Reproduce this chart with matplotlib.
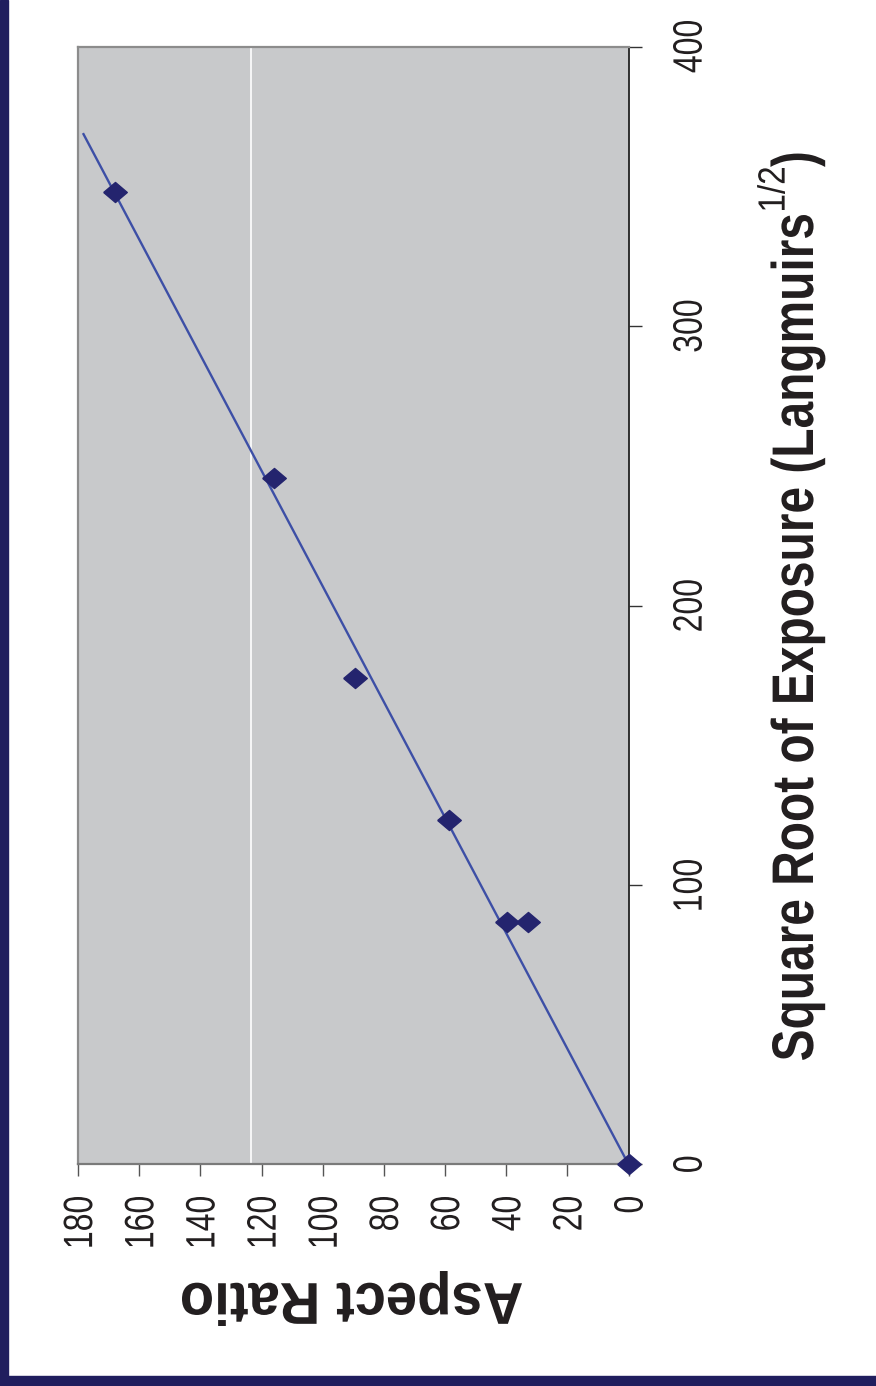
import numpy as np
import matplotlib
matplotlib.use('Agg')
import matplotlib.pyplot as plt
from matplotlib.patches import Rectangle, PathPatch
from matplotlib.textpath import TextPath
from matplotlib.font_manager import FontProperties
from matplotlib.transforms import Affine2D

exposure = [0, 86.8, 86.8, 123.1, 173.9, 245.5, 348.1]     # sqrt(Langmuirs)
aspect = [0, 39.8, 32.9, 58.6, 89.5, 115.8, 167.8]
trend_exposure = [0, 368.7]
trend_aspect = [0, 178.2]
grid_at = 123.3
aspect_ticks = [0, 20, 40, 60, 80, 100, 120, 140, 160, 180]
exposure_ticks = [0, 100, 200, 300, 400]

plt.rcParams['font.family'] = ['Liberation Sans', 'DejaVu Sans']

W, H = 876, 1386
fig = plt.figure(figsize=(W / 100, H / 100), dpi=100)
fig.patch.set_facecolor('white')
ink = '#231f20'

# navy frame strips on the left and bottom
navy = '#201e5e'
fig.patches.append(Rectangle((0, 0), 8 / W, 1, transform=fig.transFigure, color=navy, zorder=0))
fig.patches.append(Rectangle((0, 0), 1, 10 / H, transform=fig.transFigure, color=navy, zorder=0))

ax = fig.add_axes([78 / W, 1 - 1164.3 / H, 550.5 / W, 1117.6 / H])
ax.set_facecolor('#c8c9cb')
ax.set_xlim(180, 0)
ax.set_ylim(0, 400)

ax.axvline(grid_at, color='white', lw=1.2, zorder=1)
ax.plot(trend_aspect, trend_exposure, color='#3d4fa6', lw=1.7, zorder=2)
diamond = [(-1, 0), (0, 0.85), (1, 0), (0, -0.85), (-1, 0)]
ax.plot(aspect, exposure, linestyle='none', marker=diamond, ms=17,
        color='#24246e', zorder=3, clip_on=False)

for s in ['left', 'top']:
    ax.spines[s].set_color('#8c8c8c')
    ax.spines[s].set_linewidth(1.6)
ax.spines['bottom'].set_color('#7a7a7a')
ax.spines['bottom'].set_linewidth(1.6)
ax.spines['right'].set_color('#222222')
ax.spines['right'].set_linewidth(1.3)

ax.set_xticks(aspect_ticks)
ax.set_yticks(exposure_ticks)
ax.yaxis.tick_right()
ax.tick_params(axis='x', direction='out', length=8.5, width=1, color='#555555', labelbottom=False)
ax.tick_params(axis='y', direction='out', length=9, width=1, color='#333333', labelright=False)

# the chart was squeezed along its original x direction, so the text is condensed;
# draw it as glyph paths so it can be scaled that way
regular = FontProperties(family='Liberation Sans')
bold = FontProperties(family='Liberation Sans', weight='bold')


def put(s, prop, size, sx, rot, anchor, target, sy=1.0):
    tp = TextPath((0, 0), s, size=size, prop=prop)
    ext = tp.get_extents()
    ax_ = {'x0': ext.x0, 'x1': ext.x1, 'xc': (ext.x0 + ext.x1) / 2, 'base': 0,
           'y0': ext.y0, 'y1': ext.y1, 'yc': (ext.y0 + ext.y1) / 2}
    ux, uy = ax_[anchor[0]], ax_[anchor[1]]
    tr = (Affine2D().translate(-ux, -uy).scale(sx, sy).rotate_deg(rot)
          .translate(target[0], H - target[1]))
    fig.add_artist(PathPatch(tp, transform=tr, fc=ink, ec='none', lw=0))
    return ext


tick_px = 41
for v in aspect_ticks:
    xd = ax.transData.transform((v, 0))[0]
    put(str(v), regular, tick_px, 0.78, 90, ('x1', 'yc'), (xd, 1197))
for v in exposure_ticks:
    yd = H - ax.transData.transform((0, v))[1]
    put(str(v), regular, tick_px, 0.78, 90, ('xc', 'y1'), (673, yd))

# axis title on the right, reading upwards, with 1/2 superscript
main = 'Square Root of Exposure (Langmuirs'
ext = TextPath((0, 0), main, size=58.7, prop=bold).get_extents()
put(main, bold, 58.7, 845 / ext.width, 90, ('x0', 'base'), (813, 1060))
ext = TextPath((0, 0), '1/2', size=38, prop=regular).get_extents()
put('1/2', regular, 38, 42 / ext.width, 90, ('x0', 'y0'), (785, 1060 - 850))
put(')', bold, 58.7, 0.81, 90, ('x0', 'base'), (813, 1060 - 893))

# axis title at the bottom, upside down
ext = TextPath((0, 0), 'Aspect Ratio', size=59, prop=bold).get_extents()
put('Aspect Ratio', bold, 59, 340 / ext.width, 180, ('xc', 'yc'), (352, 1298.5))

fig.savefig('out.png', dpi=100)
